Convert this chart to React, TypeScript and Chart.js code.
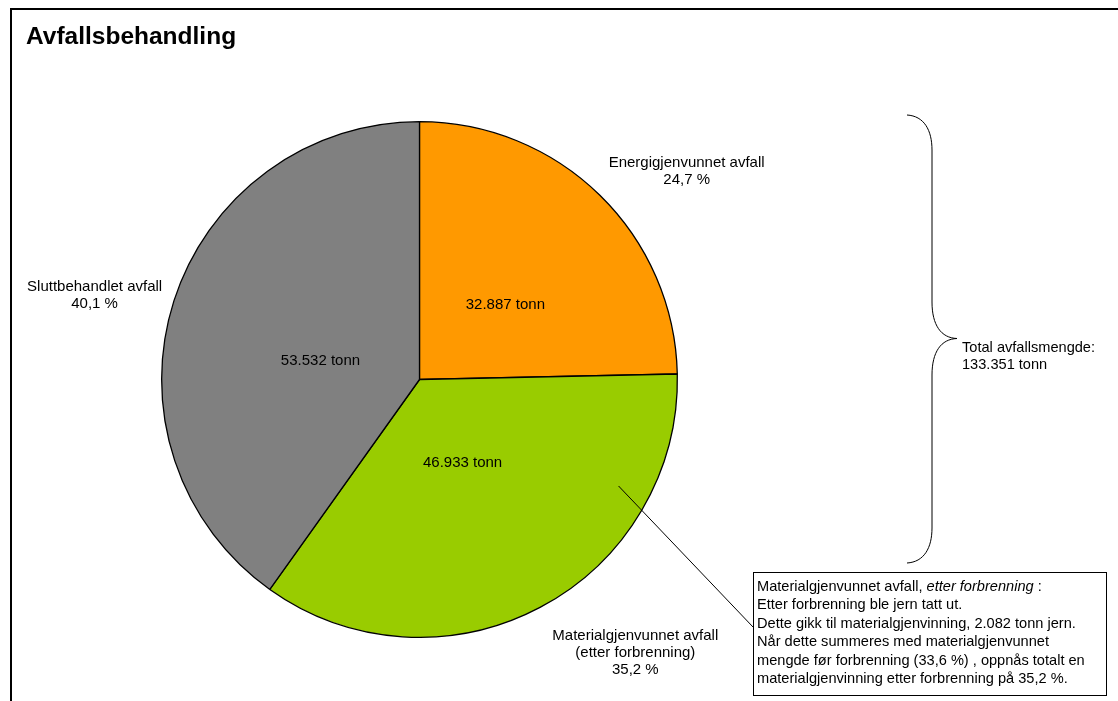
import React, { useEffect, useRef } from 'react';
import { Chart, registerables } from 'chart.js';

Chart.register(...registerables);

const chartTitle = 'Avfallsbehandling';
const categories = ['Energigjenvunnet avfall', 'Materialgjenvunnet avfall', 'Sluttbehandlet avfall'];
const tonnes = [32887, 46933, 53532];
const valueLabels = ['32.887 tonn', '46.933 tonn', '53.532 tonn'];
const outerLabels = [
  ['Energigjenvunnet avfall', '24,7 %'],
  ['Materialgjenvunnet avfall', '(etter forbrenning)', '35,2 %'],
  ['Sluttbehandlet avfall', '40,1 %'],
];
const sliceColors = ['#FF9900', '#99CC00', '#808080'];
const totalLines = ['Total avfallsmengde:', '133.351 tonn'];
const noteLines = [
  'Etter forbrenning ble jern tatt ut.',
  'Dette gikk til materialgjenvinning, 2.082 tonn jern.',
  'Når dette summeres med materialgjenvunnet',
  'mengde før forbrenning (33,6 %) , oppnås totalt en',
  'materialgjenvinning etter forbrenning på 35,2 %.',
];

const FONT = "'Liberation Sans', Arial, sans-serif";
const FS = 15;
const FS_NOTE = 14.6;

// label anchors relative to pie centre, in units of radius
const valueOffsets = [
  [0.333, -0.291],
  [0.167, 0.322],
  [-0.384, -0.074],
];
const outerOffsets = [
  [1.036, -0.84],
  [0.837, 0.993],
  [-1.26, -0.36],
];

const decorPlugin = {
  id: 'decor',
  afterDraw(chart: any) {
    const ctx = chart.ctx as CanvasRenderingContext2D;
    const meta = chart.getDatasetMeta(0);
    const arc0 = meta.data[0];
    const cx = arc0.x;
    const cy = arc0.y;
    const r = arc0.outerRadius;
    ctx.save();

    // frame
    ctx.strokeStyle = '#000';
    ctx.lineWidth = 2;
    ctx.strokeRect(11, 9, 1200, 800);

    // title
    ctx.fillStyle = '#000';
    ctx.font = `bold 24.5px ${FONT}`;
    ctx.textAlign = 'left';
    ctx.textBaseline = 'alphabetic';
    ctx.fillText(chartTitle, 26, 43.5);

    // value labels inside slices
    ctx.font = `${FS}px ${FONT}`;
    ctx.textAlign = 'center';
    ctx.textBaseline = 'middle';
    valueLabels.forEach((t, i) => {
      const [fx, fy] = valueOffsets[i];
      ctx.fillText(t, cx + fx * r, cy + fy * r);
    });

    // outer labels
    const lh = 17.4;
    outerLabels.forEach((lines, i) => {
      const [fx, fy] = outerOffsets[i];
      const x = cx + fx * r;
      const y0 = cy + fy * r;
      lines.forEach((ln, j) => {
        ctx.fillText(ln, x, y0 + j * lh);
      });
    });

    // brace
    ctx.lineWidth = 1;
    ctx.beginPath();
    ctx.moveTo(907, 115);
    ctx.bezierCurveTo(924, 116, 932, 130, 932, 150);
    ctx.lineTo(932, 302);
    ctx.bezierCurveTo(932, 325, 941, 338, 957, 338.5);
    ctx.bezierCurveTo(941, 339, 932, 352, 932, 375);
    ctx.lineTo(932, 528);
    ctx.bezierCurveTo(932, 548, 924, 562, 907, 563);
    ctx.stroke();

    ctx.font = `${FS_NOTE}px ${FONT}`;
    ctx.textAlign = 'left';
    ctx.textBaseline = 'middle';
    totalLines.forEach((ln, j) => ctx.fillText(ln, 962, 348 + j * 17.4));

    // leader line
    ctx.beginPath();
    ctx.moveTo(cx + 0.772 * r, cy + 0.413 * r);
    ctx.lineTo(753, 627);
    ctx.stroke();

    // note box
    ctx.fillStyle = '#fff';
    ctx.fillRect(753, 572, 353, 123);
    ctx.strokeRect(753.5, 572.5, 353, 123);
    ctx.fillStyle = '#000';
    ctx.textBaseline = 'alphabetic';
    const bx = 757;
    let by = 590.7;
    const first = 'Materialgjenvunnet avfall, ';
    ctx.font = `${FS_NOTE}px ${FONT}`;
    ctx.fillText(first, bx, by);
    let w = ctx.measureText(first).width;
    ctx.font = `italic ${FS_NOTE}px ${FONT}`;
    const it = 'etter forbrenning';
    ctx.fillText(it, bx + w, by);
    w += ctx.measureText(it).width;
    ctx.font = `${FS_NOTE}px ${FONT}`;
    ctx.fillText(' :', bx + w, by);
    noteLines.forEach((ln) => {
      by += 18.45;
      ctx.fillText(ln, bx, by);
    });

    ctx.restore();
  },
};

export default function App() {
  const ref = useRef<HTMLCanvasElement>(null);
  useEffect(() => {
    if (!ref.current) return;
    const chart = new Chart(ref.current, {
      type: 'pie',
      data: {
        labels: categories,
        datasets: [
          {
            data: tonnes,
            backgroundColor: sliceColors,
            borderColor: '#000',
            borderWidth: 1.3,
          },
        ],
      },
      options: {
        responsive: false,
        animation: false,
        layout: { padding: { left: 161, top: 121, right: 440, bottom: 63 } },
        plugins: {
          legend: { display: false },
          tooltip: { enabled: false },
          title: { display: false },
        },
      },
      plugins: [decorPlugin],
    });
    return () => chart.destroy();
  }, []);
  return (
    <div style={{ position: 'fixed', left: 0, top: 0, width: 1118, height: 701, background: '#fff' }}>
      <canvas ref={ref} width={1118} height={701} />
    </div>
  );
}
